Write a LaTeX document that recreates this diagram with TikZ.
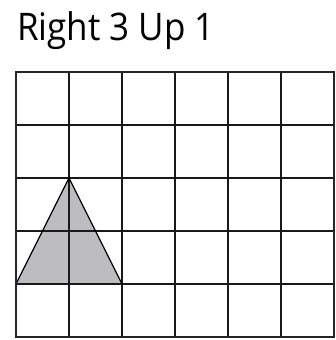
\documentclass[tikz,border=0pt]{standalone}
\usepackage{fontspec}
\setmainfont{Open Sans}
\definecolor{trigray}{HTML}{BDBDBF}
\begin{document}
\begin{tikzpicture}[x=1pt,y=-1pt,
  gridline/.style={line width=1.3pt,black!90},
  frame/.style={line width=2.2pt,black!85},
  triline/.style={draw=black,line width=1.3pt,line join=miter}]
\useasboundingbox (0,0) rectangle (336,340);
\node[anchor=base west,inner sep=0pt,xscale=0.92,font=\fontsize{38}{42}\selectfont] (title) at (17,40) {Right 3 Up 1};
\fill[trigray] (69,178) -- (16,284) -- (122,284) -- cycle;
\foreach \i in {1,...,5} \draw[gridline] (16+53*\i,72) -- (16+53*\i,337);
\foreach \j in {1,...,4} \draw[gridline] (16,72+53*\j) -- (334,72+53*\j);
\draw[triline] (16,284) -- (69,178) -- (122,284);
\draw[frame] (16,72) rectangle (334,337);
\end{tikzpicture}
\end{document}
